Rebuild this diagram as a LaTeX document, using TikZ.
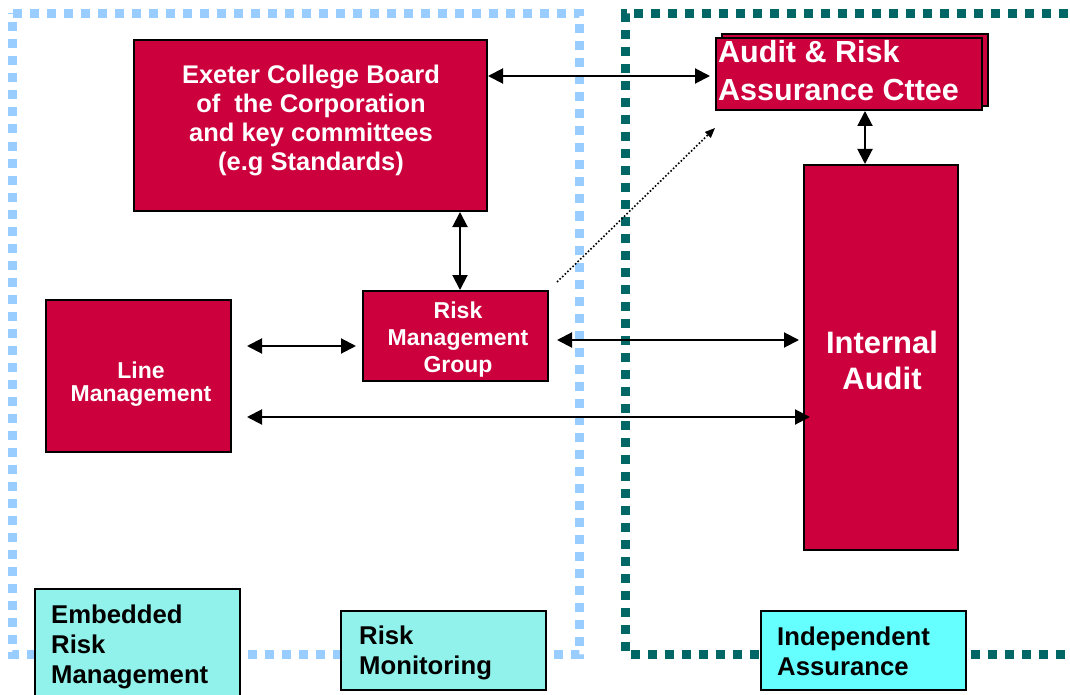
\documentclass[tikz,border=0pt]{standalone}
\usepackage{fontspec}
\setmainfont{Liberation Sans}
\usetikzlibrary{arrows.meta}
\definecolor{boardred}{RGB}{204,0,60}
\definecolor{paleaqua}{RGB}{144,242,234}
\definecolor{brightcyan}{RGB}{102,255,255}
\definecolor{skyblue}{RGB}{153,204,255}
\definecolor{deepteal}{RGB}{0,102,102}
\begin{document}
\begin{tikzpicture}[x=1pt,y=-1pt,
  redbox/.style={draw=black,line width=2pt,fill=boardred,rectangle,inner sep=0pt},
  aquabox/.style={draw=black,line width=2pt,rectangle,inner sep=0pt},
  whitetext/.style={text=white,inner sep=0pt,font=\bfseries},
  blacktext/.style={text=black,inner sep=0pt,align=left,anchor=north west,
    font=\bfseries\fontsize{25.7}{30}\selectfont},
  zone/.style={line width=9pt,dash pattern=on 9pt off 8pt},
  link/.style={line width=2pt,{Triangle[length=15pt,width=15pt]}-{Triangle[length=15pt,width=15pt]}},
  hint/.style={line width=1.6pt,dotted,-{Triangle[length=10pt,width=8pt]}}]
\useasboundingbox (0,0) rectangle (1070,695);
\clip (0,0) rectangle (1070,695);

% zone borders
\draw[zone,skyblue] (12.5,13.5) -- (579.5,13.5) -- (579.5,654) -- (12.5,654) -- cycle;
\draw[zone,deepteal] (1085,13.5) -- (625.5,13.5) -- (625.5,654) -- (1085,654);

% main boxes
\node[redbox,minimum width=353pt,minimum height=171pt] (board) at (310.5,125.5) {};
\node[redbox,minimum width=266pt,minimum height=72pt] (auditback) at (855,70) {};
\node[redbox,minimum width=266pt,minimum height=72pt] (audit) at (849,74) {};
\node[redbox,minimum width=154pt,minimum height=385pt] (internal) at (881,357.5) {};
\node[redbox,minimum width=185pt,minimum height=152pt] (line) at (138.5,376) {};
\node[redbox,minimum width=185pt,minimum height=90pt] (rmg) at (455.5,336) {};

% box texts
\node[whitetext,align=center,anchor=north,font=\bfseries\fontsize{25.5}{29}\selectfont] (boardtxt) at (311,65)
  {Exeter College Board\\of\ \ the Corporation\\and key committees\\(e.g Standards)};
\node[whitetext,align=left,anchor=north west,font=\bfseries\fontsize{30.5}{38}\selectfont] (audittxt) at (718,40)
  {Audit \& Risk\\Assurance Cttee};
\node[whitetext,align=center,anchor=north,font=\bfseries\fontsize{31}{36}\selectfont] (internaltxt) at (882,331)
  {Internal\\Audit};
\node[whitetext,align=center,anchor=north,font=\bfseries\fontsize{23}{23}\selectfont] (linetxt) at (141,362)
  {Line\\Management};
\node[whitetext,align=center,anchor=north,font=\bfseries\fontsize{23}{27}\selectfont] (rmgtxt) at (458,302)
  {Risk\\Management\\Group};

% zone labels
\node[aquabox,fill=paleaqua,minimum width=205pt,minimum height=116pt] (embedded) at (137.5,647) {};
\node[aquabox,fill=paleaqua,minimum width=205pt,minimum height=79pt] (monitor) at (443.5,650.5) {};
\node[aquabox,fill=brightcyan,minimum width=205pt,minimum height=79pt] (indep) at (863.5,650.5) {};
\node[blacktext] (embeddedtxt) at (51,605) {Embedded\\Risk\\Management};
\node[blacktext] (monitortxt) at (359,626) {Risk\\Monitoring};
\node[blacktext] (indeptxt) at (777,627) {Independent\\Assurance};

% connectors
\draw[link] ([yshift=-2pt]board.east |- audit.west) -- ([xshift=-5pt,yshift=-2pt]audit.west);
\draw[link] ([xshift=16pt]audit.south) -- ([xshift=-16pt]internal.north);
\draw[link] ([xshift=149.5pt]board.south) -- ([xshift=4.5pt]rmg.north);
\draw[link] ([xshift=15pt,yshift=30pt]line.east) -- ([xshift=-6pt,yshift=-10pt]rmg.west);
\draw[link] ([xshift=8pt,yshift=-4pt]rmg.east) -- ([xshift=-4pt,yshift=17.5pt]internal.west);
\draw[link] ([xshift=15pt,yshift=-41pt]line.east) -- ([xshift=7pt,yshift=-59.5pt]internal.west);
\draw[hint] ([xshift=8pt,yshift=8pt]rmg.north east) -- ([yshift=-17pt]audit.south west);
\end{tikzpicture}
\end{document}
